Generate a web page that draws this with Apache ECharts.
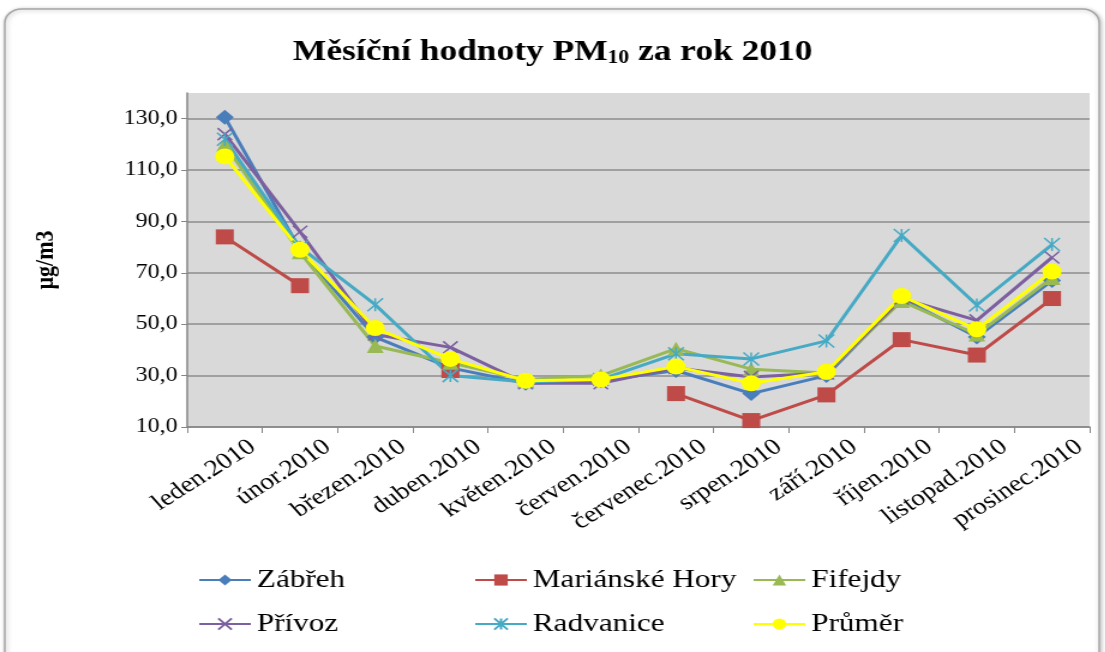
<!DOCTYPE html>
<html>
<head>
<meta charset="utf-8">
<script src="https://cdn.jsdelivr.net/npm/echarts@6/dist/echarts.min.js"></script>
<style>
  html, body { margin: 0; padding: 0; background: #fff; overflow: hidden; }
  #wrap { width: 1105px; height: 652px; overflow: hidden; }
  /* the chart is laid out narrow and widened horizontally */
  #main { width: 921px; height: 652px; transform: scaleX(1.2); transform-origin: 0 0; }
</style>
</head>
<body>
<div id="wrap"><div id="main"></div></div>
<script>
const months = ['leden.2010', 'únor.2010', 'březen.2010', 'duben.2010', 'květen.2010', 'červen.2010',
                'červenec.2010', 'srpen.2010', 'září.2010', 'říjen.2010', 'listopad.2010', 'prosinec.2010'];

const zabreh     = [130.6, 79, 45, 33, 27, 28, 32, 23, 30, 60, 45, 67];
const marianske  = [84, 65, null, 32, null, null, 23, 12.5, 22.5, 44, 38, 60];
const fifejdy    = [120, 78, 41.5, 35, 28.5, 30, 40.5, 32.5, 31, 59, 46, 68];
const privoz     = [124, 86, 46, 41, 27, 27, 33, 29.5, 31, 60, 51.5, 76];
const radvanice  = [122, 80, 57.6, 30, 27.5, 28.5, 38.5, 36.5, 43.5, 84.5, 57.5, 81];
const prumer     = [115.3, 79, 48.5, 36.5, 28, 28.5, 33.5, 27, 31.5, 61, 48, 70.5];

const yMin = 10, yMax = 140, yStep = 20;

const SERIF = '"Liberation Serif", serif';

const crossPath = 'path://M0,0L10,10M10,0L0,10';
const starPath = 'path://M5,0L5,10M0,0L10,10M10,0L0,10';

function line(name, data, color, symbol, size, extra) {
  return Object.assign({
    name: name,
    type: 'line',
    data: data,
    color: color,
    symbol: symbol,
    symbolSize: size,
    showAllSymbol: true,
    connectNulls: false,
    lineStyle: { width: 3, color: color },
    itemStyle: { color: color },
    emphasis: { disabled: true },
    animation: false
  }, extra || {});
}

const series = [
  line('Zábřeh', zabreh, '#4a7ebb', 'diamond', 15),
  line('Mariánské Hory', marianske, '#be4b48', 'rect', 15),
  line('Fifejdy', fifejdy, '#98b954', 'triangle', 14),
  line('Přívoz', privoz, '#7d60a0', crossPath, 12,
       { itemStyle: { color: '#7d60a0', borderColor: '#7d60a0', borderWidth: 1.5 } }),
  line('Radvanice', radvanice, '#46aac5', starPath, 13,
       { itemStyle: { color: '#46aac5', borderColor: '#46aac5', borderWidth: 1.5 } }),
  line('Průměr', prumer, '#ffff00', 'circle', 16)
];

function legendCol(left, names) {
  return {
    orient: 'vertical',
    left: left,
    top: 562,
    itemGap: 18,
    itemWidth: 43,
    itemHeight: 14,
    data: names,
    selectedMode: false,
    textStyle: { fontFamily: SERIF, fontSize: 26, color: '#000' }
  };
}

const chart = echarts.init(document.getElementById('main'));
chart.setOption({
  backgroundColor: 'transparent',
  animation: false,
  textStyle: { fontFamily: SERIF },
  graphic: [{
    type: 'rect',
    z: -10,
    shape: { x: 4, y: 9, width: 912, height: 680, r: 14 },
    style: {
      fill: '#ffffff', stroke: '#a6a6a6', lineWidth: 1.5,
      shadowBlur: 4, shadowColor: 'rgba(0,0,0,0.25)', shadowOffsetX: 1, shadowOffsetY: 1
    }
  }],
  title: {
    text: '{t|Měsíční hodnoty PM}{s|10}{t| za rok 2010}',
    left: 'center',
    top: 26,
    textStyle: {
      rich: {
        t: { fontFamily: SERIF, fontWeight: 'bold', fontSize: 29.5, color: '#000', lineHeight: 36, verticalAlign: 'bottom' },
        s: { fontFamily: SERIF, fontWeight: 'bold', fontSize: 18, color: '#000', lineHeight: 14, verticalAlign: 'bottom' }
      }
    }
  },
  legend: [
    legendCol(160, ['Zábřeh', 'Přívoz']),
    legendCol(390, ['Mariánské Hory', 'Radvanice']),
    legendCol(622, ['Fifejdy', 'Průměr'])
  ],
  grid: {
    left: 156, right: 13, top: 93, bottom: 225,
    show: true, backgroundColor: '#d9d9d9', borderWidth: 0
  },
  xAxis: {
    type: 'category',
    data: months,
    boundaryGap: true,
    axisLine: { lineStyle: { color: '#868686', width: 1.5 } },
    axisTick: { show: true, length: 6, lineStyle: { color: '#868686' } },
    axisLabel: {
      interval: 0, rotate: 37, margin: 35,
      padding: [0, -29, 0, 0],
      fontFamily: SERIF, fontSize: 23, color: '#000'
    },
    splitLine: { show: false }
  },
  yAxis: {
    type: 'value',
    min: yMin, max: yMax, interval: yStep,
    name: 'µg/m3',
    nameLocation: 'middle',
    nameRotate: 90,
    nameGap: 107,
    nameTextStyle: { fontFamily: SERIF, fontWeight: 'bold', fontSize: 22, color: '#000' },
    axisLine: { show: true, lineStyle: { color: '#868686', width: 1.5 } },
    axisTick: { show: true, length: 5, lineStyle: { color: '#868686' } },
    axisLabel: {
      showMaxLabel: false,
      margin: 8,
      fontFamily: SERIF, fontSize: 20, color: '#000',
      formatter: v => v.toFixed(1).replace('.', ',')
    },
    splitLine: { show: true, showMaxLine: false, lineStyle: { color: '#8c8c8c', width: 1.5 } }
  },
  series: series
});
</script>
</body>
</html>
